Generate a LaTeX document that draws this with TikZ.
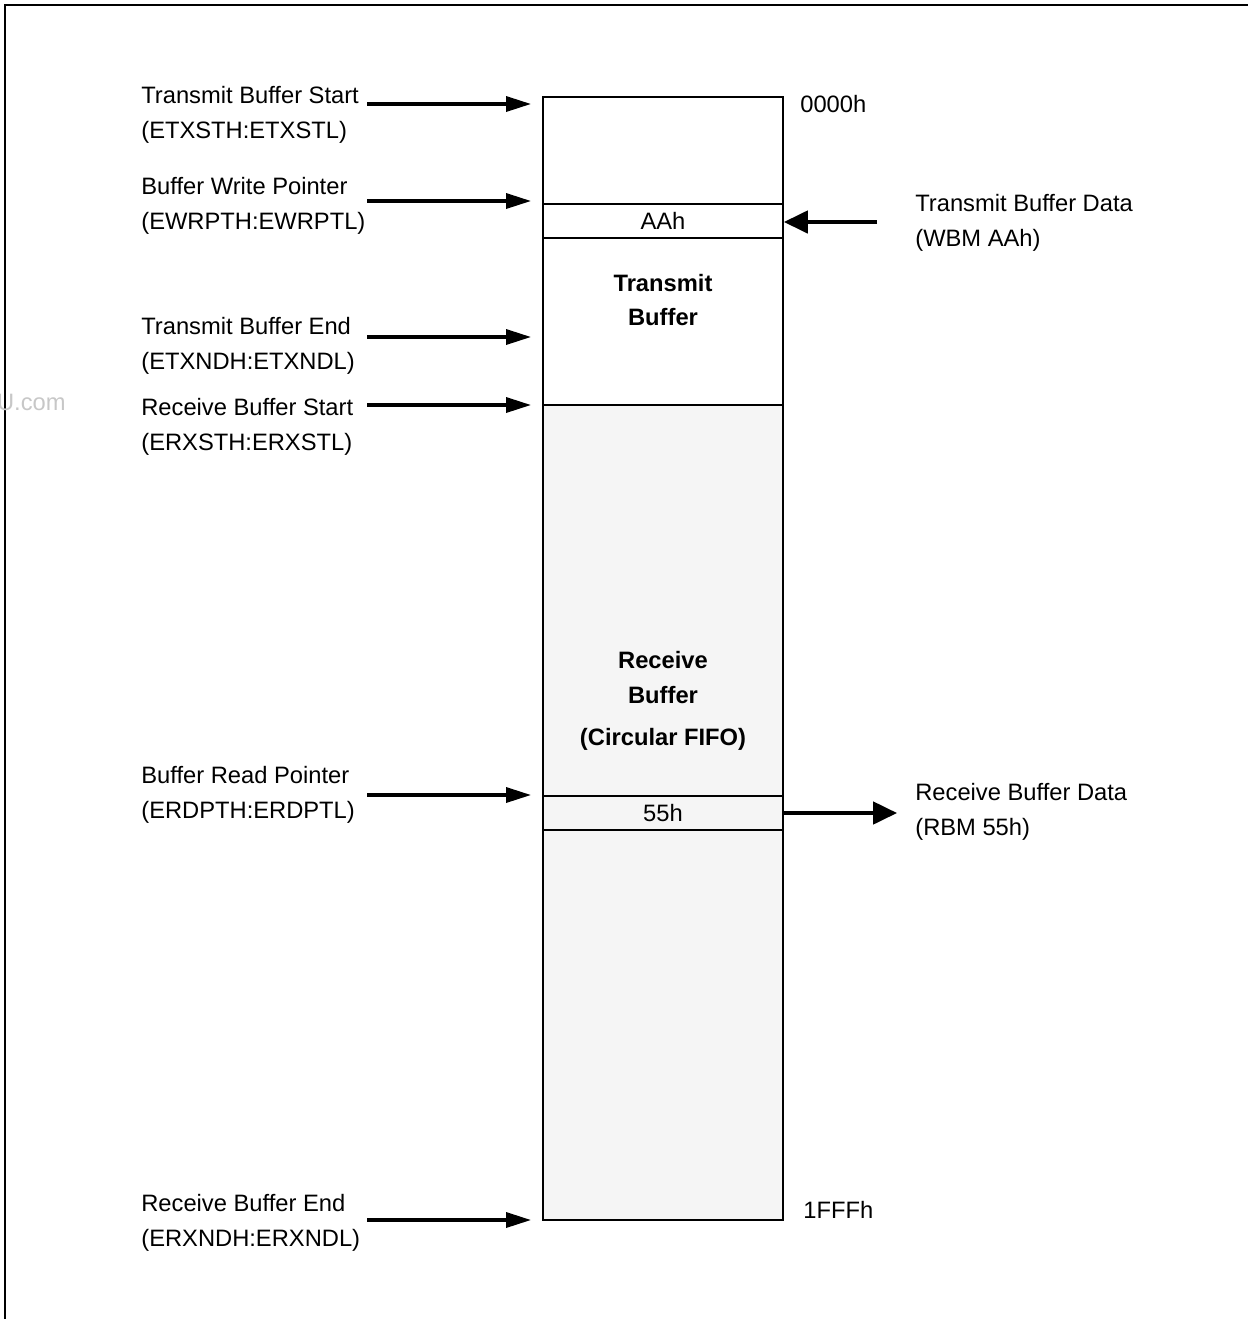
\documentclass[tikz,border=0pt]{standalone}
\usepackage{fontspec}
\setmainfont{Liberation Sans}
\usetikzlibrary{arrows.meta}
\tikzset{
  lbl/.style={anchor=west, align=left, inner sep=0pt, font=\fontsize{13.5}{19.8}\selectfont},
  addr/.style={anchor=west, inner sep=0pt, font=\fontsize{13.5}{16}\selectfont},
  region/.style={draw, line width=1.1pt, minimum width=4.8cm, inner sep=0pt},
  cell/.style={region, minimum height=0.68cm, font=\fontsize{13.5}{16}\selectfont},
  title/.style={align=center, font=\fontsize{13.5}{19.8}\selectfont\bfseries},
  ptr/.style={line width=1.9pt, -{Triangle[length=0.5cm, width=0.3cm]}},
  dat/.style={line width=1.9pt, -{Triangle[length=0.48cm, width=0.45cm]}}
}
\begin{document}
\begin{tikzpicture}[x=0.02cm, y=-0.02cm]
	\useasboundingbox (0,0) rectangle (1248,1319);
	
	% frame
	\draw[line width=1.6pt] (5,1319) -- (5,5) -- (1248,5);
	\node[anchor=east, inner sep=0pt, text=black!22, font=\fontsize{13.5}{16}\selectfont] (wm) at (66,402) {U.com};
	
	% buffer memory
	\node[region, minimum height=6.16cm] (txbuf) at (663,251) {};
	\node[region, minimum height=16.3cm, fill=black!4] (rxbuf) at (663,812.5) {};
	\node[cell] (aa) at (663,221) {AAh};
	\node[cell, fill=black!4] (ff) at (663,813) {55h};
	
	\node[title] (txname) at (663,300) {Transmit\\Buffer};
	\node[title] (rxname) at (663,701) {Receive\\Buffer\\[0.16cm](Circular FIFO)};
	
	\node[addr] (top) at (800,104) {0000h};
	\node[addr] (bot) at (803,1210) {1FFFh};
	
	% pointer labels
	\node[lbl] (ts) at (141,115) {Transmit Buffer Start\\(ETXSTH:ETXSTL)};
	\node[lbl] (wp) at (141,206) {Buffer Write Pointer\\(EWRPTH:EWRPTL)};
	\node[lbl] (te) at (141,346) {Transmit Buffer End\\(ETXNDH:ETXNDL)};
	\node[lbl] (rs) at (141,427) {Receive Buffer Start\\(ERXSTH:ERXSTL)};
	\node[lbl] (rp) at (141,795) {Buffer Read Pointer\\(ERDPTH:ERDPTL)};
	\node[lbl] (re) at (141,1223) {Receive Buffer End\\(ERXNDH:ERXNDL)};
	
	\node[lbl] (td) at (915,223) {Transmit Buffer Data\\(WBM AAh)};
	\node[lbl] (rd) at (915,812) {Receive Buffer Data\\(RBM 55h)};
	
	% arrow tails
	\coordinate (tsT) at (367,104);
	\coordinate (wpT) at (367,201);
	\coordinate (teT) at (367,337);
	\coordinate (rsT) at (367,405);
	\coordinate (rpT) at (367,795);
	\coordinate (reT) at (367,1220);
	\coordinate (tdT) at (877,222);
	\coordinate (rdT) at (897,813);
	
	\draw[ptr, shorten >=0.22cm] (tsT) -- (tsT -| txbuf.west);
	\draw[ptr, shorten >=0.22cm] (wpT) -- (wpT -| txbuf.west);
	\draw[ptr, shorten >=0.22cm] (teT) -- (teT -| txbuf.west);
	\draw[ptr, shorten >=0.22cm] (rsT) -- (rsT -| rxbuf.west);
	\draw[ptr, shorten >=0.22cm] (rpT) -- (rpT -| rxbuf.west);
	\draw[ptr, shorten >=0.22cm] (reT) -- (reT -| rxbuf.west);
	
	\draw[dat] (tdT) -- (tdT -| aa.east);
	\draw[dat] (ff.east) -- (rdT);
\end{tikzpicture}
\end{document}
